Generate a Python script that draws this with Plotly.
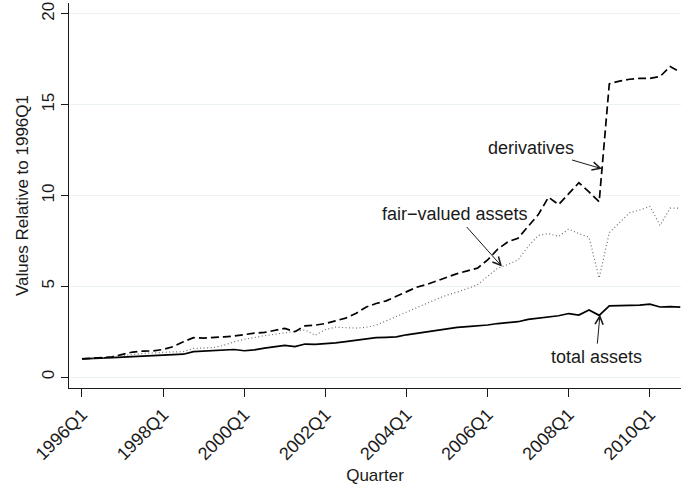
import plotly.graph_objects as go

# Quarterly index values, 1996Q1 = 1
quarters = [f"{y}Q{q}" for y in range(1996, 2011) for q in range(1, 5)]

derivatives = [
    1.00, 1.03, 1.06, 1.12, 1.25, 1.38, 1.43, 1.44, 1.52, 1.68,
    1.95, 2.17, 2.15, 2.17, 2.22, 2.26, 2.35, 2.42, 2.46, 2.58,
    2.68, 2.50, 2.82, 2.86, 2.95, 3.10, 3.25, 3.50, 3.85, 4.05,
    4.20, 4.45, 4.70, 4.95, 5.10, 5.30, 5.50, 5.70, 5.85, 6.00,
    6.45, 7.05, 7.45, 7.65, 8.30, 8.95, 9.90, 9.50, 10.10, 10.70,
    10.20, 9.65, 16.15, 16.30, 16.40, 16.45, 16.45, 16.55, 17.10, 16.80,
]

fair_valued = [
    1.00, 1.02, 1.05, 1.10, 1.18, 1.25, 1.30, 1.33, 1.37, 1.39,
    1.40, 1.58, 1.60, 1.63, 1.75, 1.95, 2.08, 2.20, 2.28, 2.36,
    2.42, 2.52, 2.60, 2.30, 2.62, 2.75, 2.72, 2.70, 2.74, 2.86,
    3.10, 3.35, 3.60, 3.85, 4.06, 4.30, 4.52, 4.68, 4.88, 5.08,
    5.55, 6.00, 6.20, 6.45, 7.20, 7.80, 7.90, 7.75, 8.15, 7.90,
    7.70, 5.45, 7.95, 8.50, 9.05, 9.20, 9.40, 8.35, 9.30, 9.30,
]

total_assets = [
    1.00, 1.01, 1.04, 1.07, 1.10, 1.12, 1.15, 1.17, 1.20, 1.23,
    1.26, 1.40, 1.42, 1.45, 1.48, 1.52, 1.45, 1.50, 1.60, 1.68,
    1.75, 1.68, 1.82, 1.80, 1.82, 1.88, 1.95, 2.02, 2.10, 2.17,
    2.19, 2.22, 2.33, 2.42, 2.50, 2.60, 2.68, 2.74, 2.78, 2.82,
    2.87, 2.95, 3.00, 3.05, 3.18, 3.25, 3.35, 3.38, 3.50, 3.42,
    3.70, 3.40, 3.92, 3.93, 3.93, 3.96, 4.02, 3.86, 3.88, 3.85,
]

y_ticks = [0, 5, 10, 15, 20]
x_tick_labels = [q for q in quarters if q.endswith("Q1") and int(q[:4]) % 2 == 0]

xs = list(range(len(quarters)))
x_tickvals = [quarters.index(q) for q in x_tick_labels]

FONT = "Liberation Sans, Arial, Helvetica, sans-serif"
INK = "#1a1a1a"


def at(series, pos):
    """Linear interpolation of a series at a fractional quarter position."""
    i = int(pos)
    f = pos - i
    return series[i] + f * (series[i + 1] - series[i])


fig = go.Figure()
fig.add_trace(go.Scatter(x=xs, y=total_assets, mode="lines", name="total assets",
                         line=dict(color="#000000", width=1.7)))
fig.add_trace(go.Scatter(x=xs, y=fair_valued, mode="lines", name="fair-valued assets",
                         line=dict(color="#6e6e6e", width=1.2, dash="1px,2.5px")))
fig.add_trace(go.Scatter(x=xs, y=derivatives, mode="lines", name="derivatives",
                         line=dict(color="#000000", width=1.7, dash="8px,4px")))

labels = [
    ("derivatives", derivatives, 51.28, 44.28, 12.62),
    ("fair\u2212valued assets", fair_valued, 41.42, 36.8, 8.98),
    ("total assets", total_assets, 51.08, 50.7, 1.10),
]
for text, series, xt, ax, ay in labels:
    fig.add_annotation(
        x=xt, y=at(series, xt), xref="x", yref="y",
        ax=ax, ay=ay, axref="x", ayref="y",
        text=text, showarrow=True, arrowhead=5, arrowsize=1.6, arrowwidth=1,
        arrowcolor=INK, standoff=0, startstandoff=2,
        font=dict(family=FONT, size=18, color=INK),
    )

fig.update_layout(
    width=681, height=491,
    margin=dict(l=69, r=0, t=3, b=103),
    paper_bgcolor="white", plot_bgcolor="white",
    showlegend=False,
    font=dict(family=FONT, size=17, color=INK),
)
fig.update_xaxes(
    range=[-1.28, 59.07],
    tickmode="array", tickvals=x_tickvals, ticktext=x_tick_labels,
    tickangle=-45, ticks="outside", ticklen=8, tickwidth=1, tickcolor=INK,
    showline=True, linecolor=INK, linewidth=1,
    showgrid=False, zeroline=False,
    title=dict(text="Quarter", font=dict(size=17), standoff=6),
    tickfont=dict(size=18),
)
fig.update_yaxes(
    range=[-0.6, 20.6],
    tickmode="array", tickvals=y_ticks,
    tickangle=-90, ticks="outside", ticklen=7, tickwidth=1, tickcolor=INK,
    showline=True, linecolor=INK, linewidth=1,
    showgrid=True, gridcolor="#eaf2f3", gridwidth=1, zeroline=False,
    title=dict(text="Values Relative to 1996Q1", font=dict(size=17), standoff=6),
    tickfont=dict(size=17),
)

fig.write_html("out.html")
